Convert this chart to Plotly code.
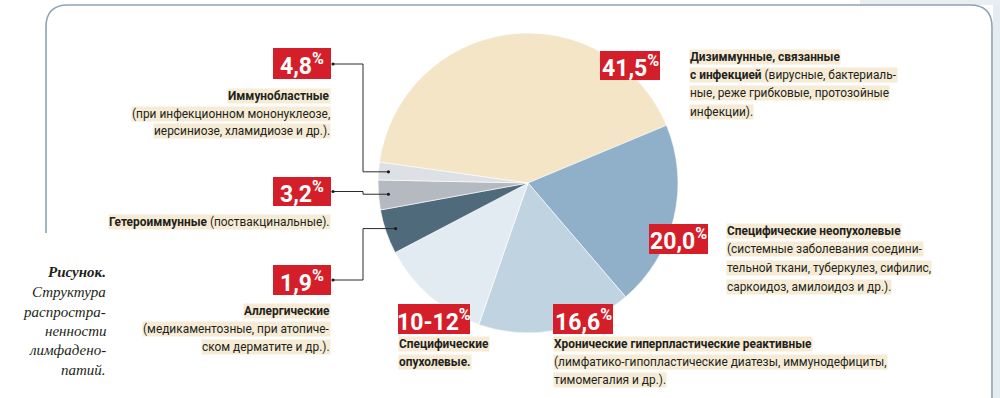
import math
import plotly.graph_objects as go

# ---------------- data ----------------
slice_names = ["Дизиммунные", "Специфические неопухолевые", "Хронические гиперпластические",
               "Специфические опухолевые", "Аллергические", "Гетероиммунные", "Иммунобластные"]
slice_values = [41.5, 20.0, 16.6, 12.0, 4.8, 3.2, 1.9]
slice_colors = ["#f3e5c6", "#8fb0c8", "#c0d3e1", "#e3ebf2", "#4f6a7b", "#b5bac0", "#dde0e4"]

pct_labels = ["41,5", "20,0", "16,6", "10-12", "4,8", "3,2", "1,9"]

text_415 = ["<b>Дизиммунные, связанные</b>",
            "<b>с инфекцией</b> (вирусные, бактериаль-",
            "ные, реже грибковые, протозойные",
            "инфекции)."]
text_20 = ["<b>Специфические неопухолевые</b>",
           "(системные заболевания соедини-",
           "тельной ткани, туберкулез, сифилис,",
           "саркоидоз, амилоидоз и др.)."]
text_166 = ["<b>Хронические гиперпластические реактивные</b>",
            "(лимфатико-гипопластические диатезы, иммунодефициты,",
            "тимомегалия и др.)."]
text_1012 = ["<b>Специфические</b>", "<b>опухолевые.</b>"]
text_48 = ["<b>Иммунобластные</b>",
           "(при инфекционном мононуклеозе,",
           "иерсиниозе, хламидиозе и др.)."]
text_32 = ["<b>Гетероиммунные</b> (поствакцинальные)."]
text_19 = ["<b>Аллергические</b>",
           "(медикаментозные, при атопиче-",
           "ском дерматите и др.)."]
caption = ["<b><i>Рисунок.</i></b>", "<i>Структура</i>", "<i>распростра-</i>",
           "<i>ненности</i>", "<i>лимфадено-</i>", "<i>патий.</i>"]

# ---------------- layout helpers ----------------
W, H = 1000, 398
def X(px): return px / W
def Y(py): return 1 - py / H

RED = "#d41f2a"
HIL = "#f6ecd6"
INK = "#231f20"
NARROW = "Roboto, sans-serif"

CX, CY, R = 528, 183, 150
START = 172.0  # math degrees, slices go clockwise

fig = go.Figure()
fig.add_trace(go.Pie(
    values=slice_values, labels=slice_names, sort=False, direction="clockwise",
    rotation=90 - START, textinfo="none", hoverinfo="label+value",
    marker=dict(colors=slice_colors, line=dict(color="#ffffff", width=0.6)),
    domain=dict(x=[X(CX - R), X(CX + R)], y=[Y(CY + R), Y(CY - R)]),
    showlegend=False,
))

# mid angles of slices (for leader lines)
total = sum(slice_values)
mids = []
a = START
for v in slice_values:
    span = v / total * 360
    mids.append(a - span / 2)
    a -= span

def slice_point(i, r=140):
    ang = math.radians(mids[i])
    return CX + r * math.cos(ang), CY - r * math.sin(ang)

shapes = []
annotations = []

# page background strips and frame
shapes.append(dict(type="rect", xref="paper", yref="paper", x0=X(993), x1=X(1000), y0=Y(398), y1=Y(0),
                   fillcolor="#e4ebf1", line=dict(width=0), layer="below"))
shapes.append(dict(type="rect", xref="paper", yref="paper", x0=X(860), x1=X(1000), y0=Y(5), y1=Y(0),
                   fillcolor="#e9eef2", line=dict(width=0), layer="below"))
frame = (f"M {X(46)},{Y(233)} L {X(46)},{Y(27)} Q {X(46)},{Y(5)} {X(68)},{Y(5)} "
         f"L {X(970)},{Y(5)} Q {X(992)},{Y(5)} {X(992)},{Y(27)} L {X(992)},{Y(398)}")
shapes.append(dict(type="path", xref="paper", yref="paper", path=frame,
                   line=dict(color="#8ea3b3", width=1.6)))

# red percentage boxes: (label index, x0, x1, y0, y1)
boxes = [(0, 600, 660, 51, 80), (1, 649, 708, 224, 254), (2, 553, 613, 304, 334),
         (3, 398, 470, 304, 334), (4, 273, 331, 48, 79), (5, 273, 331, 177, 206),
         (6, 273, 331, 265, 295)]
for i, x0, x1, y0, y1 in boxes:
    shapes.append(dict(type="rect", xref="paper", yref="paper", x0=X(x0), x1=X(x1), y0=Y(y1), y1=Y(y0),
                       fillcolor=RED, line=dict(width=0)))
    annotations.append(dict(xref="paper", yref="paper", x=X((x0 + x1) / 2), y=Y((y0 + y1) / 2 + 1),
                            text=f"<b>{pct_labels[i]}<sup>%</sup></b>", showarrow=False,
                            xanchor="center", yanchor="middle",
                            font=dict(family=NARROW, size=23, color="#ffffff")))

# leader lines: label box (right edge, mid y) -> elbow x=363 -> slice point
leaders = [(4, 64, 6), (5, 191.5, 5), (6, 280, 4)]  # (label idx, label y, slice idx)
for li, ly, si in leaders:
    px, py = slice_point(si)
    path = f"M {X(332)},{Y(ly)} L {X(363)},{Y(ly)} L {X(363)},{Y(py)} L {X(px)},{Y(py)}"
    shapes.append(dict(type="path", xref="paper", yref="paper", path=path,
                       line=dict(color="#2b2b2b", width=1)))
    for (dx, dy) in [(333, ly), (px, py)]:
        shapes.append(dict(type="circle", xref="paper", yref="paper",
                           x0=X(dx - 1.6), x1=X(dx + 1.6), y0=Y(dy + 1.6), y1=Y(dy - 1.6),
                           fillcolor="#1a1a1a", line=dict(width=0)))

def block(lines, x, ys, anchor):
    for t, y in zip(lines, ys):
        annotations.append(dict(xref="paper", yref="paper", x=X(x), y=Y(y), text=t,
                                showarrow=False, xanchor=anchor, yanchor="middle",
                                bgcolor=HIL, borderpad=0,
                                font=dict(family=NARROW, size=11.9, color=INK)))

block(text_415, 689, [57, 75, 93, 112], "left")
block(text_20, 726, [231, 249, 268, 287], "left")
block(text_166, 553, [344, 362, 380], "left")
block(text_1012, 398, [344, 362], "left")
block(text_48, 331, [96, 114, 131], "right")
block(text_32, 331, [222], "right")
block(text_19, 331, [311, 329, 347], "right")

for t, y in zip(caption, [272, 292, 312, 331, 350, 370]):
    annotations.append(dict(xref="paper", yref="paper", x=X(108), y=Y(y), text=t,
                            showarrow=False, xanchor="right", yanchor="middle",
                            font=dict(family="Liberation Serif, DejaVu Serif, serif", size=15,
                                      color=INK)))

fig.update_layout(width=W, height=H, autosize=False,
                  margin=dict(l=0, r=0, t=0, b=0),
                  paper_bgcolor="#ffffff", plot_bgcolor="#ffffff",
                  shapes=shapes, annotations=annotations)

fig.write_html("out.html", config={"displayModeBar": False},
               post_script="document.body.style.margin='0px';document.body.style.overflow='hidden';")
